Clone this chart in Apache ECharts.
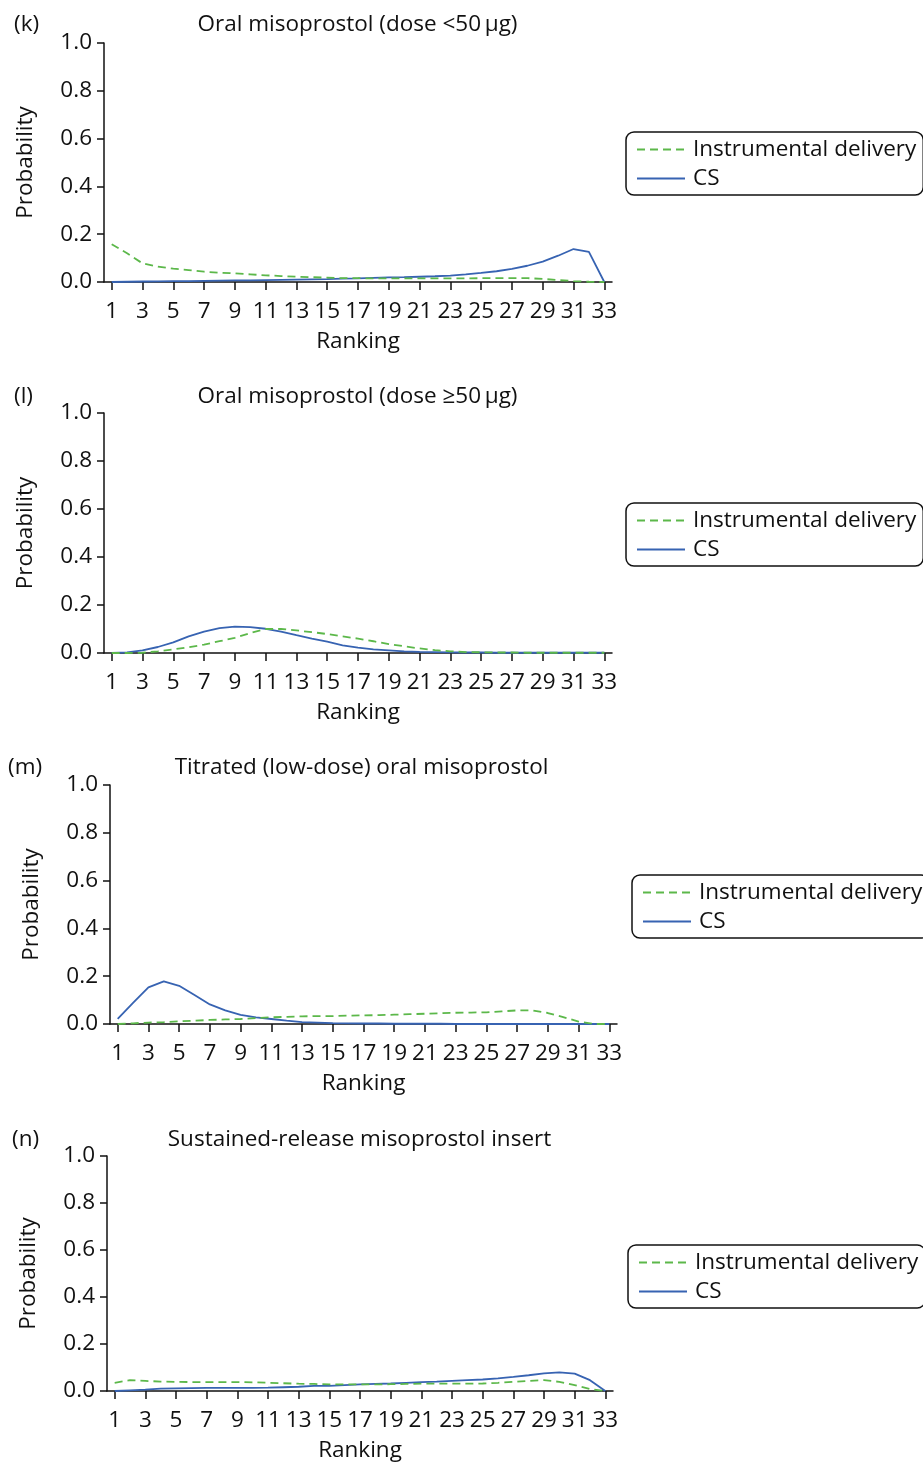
<!DOCTYPE html>
<html>
<head>
<meta charset="utf-8">
<script src="https://cdn.jsdelivr.net/npm/echarts@6/dist/echarts.min.js"></script>
<style>
  html, body { margin: 0; padding: 0; background: #fff; }
  #chart { width: 923px; height: 1463px; }
</style>
</head>
<body>
<div id="chart"></div>
<script>
// Rankings 1..33 shared by every panel
const ranks = ['1','2','3','4','5','6','7','8','9','10','11','12','13','14','15','16','17',
               '18','19','20','21','22','23','24','25','26','27','28','29','30','31','32','33'];
const yTicks = [0, 0.2, 0.4, 0.6, 0.8, 1.0];

const panelLabels = ['(k)', '(l)', '(m)', '(n)'];
const panelTitles = [
  'Oral misoprostol (dose <50\u2009μg)',
  'Oral misoprostol (dose ≥50\u2009μg)',
  'Titrated (low-dose) oral misoprostol',
  'Sustained-release misoprostol insert'
];
const seriesNames = ['Instrumental delivery', 'CS'];

// (k) Oral misoprostol (dose <50 μg)
const kInstrumental = [0.158,0.12,0.078,0.064,0.056,0.05,0.043,0.039,0.036,0.032,
                       0.028,0.025,0.022,0.02,0.018,0.016,0.016,0.015,0.015,0.015,
                       0.015,0.015,0.015,0.015,0.016,0.016,0.016,0.016,0.013,0.008,
                       0.004,0.001,0];
const kCS = [0,0.001,0.002,0.003,0.004,0.004,0.005,0.006,0.007,0.007,
             0.008,0.009,0.010,0.011,0.012,0.014,0.015,0.017,0.019,0.020,
             0.022,0.024,0.027,0.032,0.038,0.045,0.055,0.068,0.085,0.11,
             0.138,0.126,0];

// (l) Oral misoprostol (dose ≥50 μg)
const lInstrumental = [0,0,0.001,0.007,0.015,0.024,0.035,0.049,0.063,0.083,
                       0.1,0.1,0.094,0.087,0.079,0.069,0.06,0.049,0.037,0.028,
                       0.019,0.012,0.007,0.004,0.003,0.002,0.002,0.001,0.001,0.001,
                       0.001,0.001,0.001];
const lCS = [0,0.003,0.011,0.025,0.044,0.069,0.089,0.104,0.11,0.108,
             0.101,0.089,0.074,0.06,0.047,0.032,0.022,0.015,0.011,0.007,
             0.005,0.004,0.003,0.002,0.002,0.001,0.001,0.001,0.001,0.001,
             0.001,0.001,0.001];

// (m) Titrated (low-dose) oral misoprostol
const mInstrumental = [0,0.003,0.006,0.008,0.011,0.014,0.017,0.019,0.021,0.025,
                       0.028,0.03,0.032,0.033,0.033,0.035,0.036,0.037,0.039,0.041,
                       0.043,0.045,0.047,0.048,0.049,0.053,0.057,0.057,0.046,0.029,
                       0.01,0,0];
const mCS = [0.021,0.088,0.153,0.178,0.16,0.121,0.082,0.057,0.038,0.028,
             0.021,0.014,0.008,0.006,0.004,0.003,0.002,0.002,0.001,0.001,
             0.001,0.001,0,0,0,0,0,0,0,0,
             0,0,0];

// (n) Sustained-release misoprostol insert
const nInstrumental = [0.035,0.046,0.043,0.04,0.039,0.038,0.038,0.038,0.038,0.037,
                       0.035,0.033,0.031,0.03,0.028,0.028,0.028,0.028,0.029,0.03,
                       0.031,0.031,0.031,0.031,0.032,0.035,0.039,0.043,0.046,0.039,
                       0.025,0.008,0];
const nCS = [0,0.003,0.006,0.01,0.011,0.012,0.013,0.013,0.013,0.013,
             0.014,0.016,0.018,0.022,0.022,0.025,0.028,0.03,0.032,0.035,
             0.038,0.04,0.043,0.046,0.049,0.054,0.06,0.067,0.075,0.079,
             0.074,0.046,0];

const instrumentalSets = [kInstrumental, lInstrumental, mInstrumental, nInstrumental];
const csSets = [kCS, lCS, mCS, nCS];

// Layout of the four stacked panels
const grids = [
  { left: 104, top: 43,   width: 508, height: 239 },
  { left: 104, top: 413,  width: 508, height: 240 },
  { left: 110, top: 785,  width: 507, height: 239 },
  { left: 107, top: 1156, width: 506, height: 240 }
];
const titlePos = [
  { x: 357.5, y: 25 }, { x: 357.5, y: 397 }, { x: 361.5, y: 768 }, { x: 359.5, y: 1140 }
];
const labelPos = [
  { x: 14, y: 25 }, { x: 14, y: 397 }, { x: 8, y: 768 }, { x: 12, y: 1140 }
];
const legendPos = [
  { left: 626, top: 132 }, { left: 626, top: 503 }, { left: 632, top: 875 }, { left: 628, top: 1245 }
];

const FONT = '"Open Sans", "Noto Sans", sans-serif';
const FS = 22.5;
const GREEN = '#5cb84a';
const BLUE = '#3763b2';
const INK = '#111';

const xAxes = [], yAxes = [], series = [], legends = [], graphics = [];

grids.forEach(function (g, i) {
  xAxes.push({
    type: 'category', gridIndex: i, data: ranks, boundaryGap: true,
    name: 'Ranking', nameLocation: 'middle', nameGap: 48,
    nameTextStyle: { fontFamily: FONT, fontSize: FS, color: INK },
    axisLine: { lineStyle: { color: INK, width: 1.5 } },
    axisTick: { show: true, interval: 1, alignWithLabel: true, length: 8, lineStyle: { color: INK, width: 1.5 } },
    axisLabel: { interval: 1, margin: 18, fontFamily: FONT, fontSize: FS, color: INK },
    splitLine: { show: false }
  });
  yAxes.push({
    type: 'value', gridIndex: i, min: yTicks[0], max: yTicks[yTicks.length - 1], interval: 0.2,
    name: 'Probability', nameLocation: 'middle', nameGap: 67, nameRotate: 90,
    nameTextStyle: { fontFamily: FONT, fontSize: FS, color: INK },
    axisLine: { show: true, lineStyle: { color: INK, width: 1.5 } },
    axisTick: { show: true, length: 7, lineStyle: { color: INK, width: 1.5 } },
    axisLabel: { margin: 12, fontFamily: FONT, fontSize: FS, color: INK,
                 formatter: function (v) { return v.toFixed(1); } },
    splitLine: { show: false }
  });
  series.push({
    name: seriesNames[1], type: 'line', xAxisIndex: i, yAxisIndex: i,
    data: csSets[i], symbol: 'none', smooth: false,
    lineStyle: { color: BLUE, width: 1.8 }, itemStyle: { color: BLUE }, z: 3
  });
  series.push({
    name: seriesNames[0], type: 'line', xAxisIndex: i, yAxisIndex: i,
    data: instrumentalSets[i], symbol: 'none', smooth: false,
    lineStyle: { color: GREEN, width: 1.8, type: [8, 5] }, itemStyle: { color: GREEN }, z: 4
  });
  legends.push({
    data: seriesNames, orient: 'vertical',
    left: legendPos[i].left, top: legendPos[i].top,
    padding: [6, 7, 5, 10], itemGap: 6, itemWidth: 48, itemHeight: 14,
    borderColor: INK, borderWidth: 1.5, borderRadius: 8,
    selectedMode: false,
    // line sample only, no point marker
    itemStyle: { opacity: 0, borderWidth: 0 },
    textStyle: { fontFamily: FONT, fontSize: FS, color: INK, padding: [0, 0, 0, 3] }
  });
  graphics.push({
    type: 'text', x: titlePos[i].x, y: titlePos[i].y,
    style: { text: panelTitles[i], font: FS + 'px ' + FONT, fill: INK, align: 'center', verticalAlign: 'middle' }
  });
  graphics.push({
    type: 'text', x: labelPos[i].x, y: labelPos[i].y,
    style: { text: panelLabels[i], font: FS + 'px ' + FONT, fill: INK, align: 'left', verticalAlign: 'middle' }
  });
});

const chart = echarts.init(document.getElementById('chart'), null, { renderer: 'canvas' });
chart.setOption({
  animation: false,
  backgroundColor: '#fff',
  grid: grids,
  xAxis: xAxes,
  yAxis: yAxes,
  legend: legends,
  series: series,
  graphic: graphics
});
</script>
</body>
</html>
